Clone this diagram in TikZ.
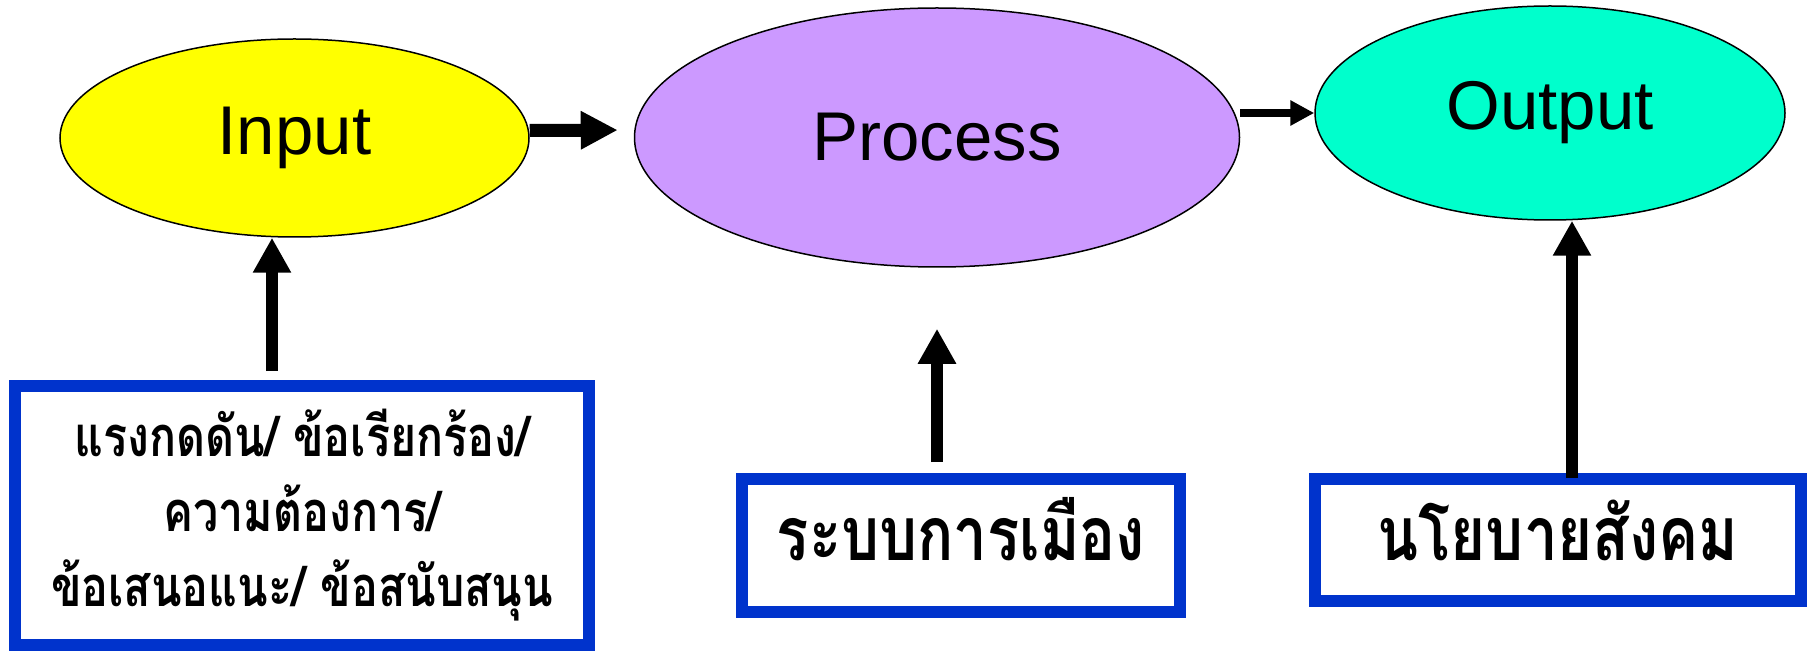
\documentclass[tikz,border=0pt]{standalone}
\usepackage{fontspec}
\setmainfont{Liberation Sans}
\newfontfamily\thaifont[Script=Thai,FakeStretch=0.8]{Loma}
\usetikzlibrary{shapes.geometric,arrows.meta}
\definecolor{inputyellow}{HTML}{FFFF00}
\definecolor{processpurple}{HTML}{CC99FF}
\definecolor{outputcyan}{HTML}{00FFCC}
\definecolor{boxblue}{HTML}{0033CC}

\begin{document}
\begin{tikzpicture}[x=1pt,y=-1pt,
  bubble/.style={ellipse,draw=black,line width=1.5pt,inner sep=0pt,font=\fontsize{69}{80}\selectfont},
  factorbox/.style={rectangle,draw=boxblue,line width=12pt,fill=white,inner sep=0pt,align=center,font=\thaifont\bfseries\fontsize{56}{75}\selectfont},
  bigtext/.style={font=\thaifont\bfseries\fontsize{75}{90}\selectfont,text height=60pt},
  fatarrow/.style={line width=13pt,-{Triangle[length=37pt,width=36pt]}},
  thinarrow/.style={line width=8pt,-{Triangle[length=24pt,width=24pt]}},
  uparrow/.style={line width=12pt,-{Triangle[length=35pt,width=36pt]}}]
\useasboundingbox (0,0) rectangle (1810,652);
\node[bubble,fill=inputyellow,minimum width=469pt,minimum height=198pt] (input) at (294.5,138) {Input};
\node[bubble,fill=processpurple,minimum width=605pt,minimum height=259pt] (process) at (937,137.5) {Process};
\node[bubble,fill=outputcyan,minimum width=470pt,minimum height=214pt] (output) at (1550,113) {Output};
\node[factorbox,minimum width=574pt,minimum height=259pt] (demand) at (302,515) {แรงกดดัน/ ข้อเรียกร้อง/\\ความต้องการ/\\ข้อเสนอแนะ/ ข้อสนับสนุน};
\node[factorbox,bigtext,text depth=31pt,minimum width=438.5pt,minimum height=133pt] (politics) at (961,545.5) {ระบบการเมือง};
\node[factorbox,bigtext,text depth=20pt,minimum width=486pt,minimum height=122pt] (policy) at (1558,540) {นโยบายสังคม};
\draw[fatarrow,shorten >=16pt] ([yshift=7.5pt]input.east) -- ([yshift=7.5pt]process.west);
\draw[thinarrow] (process.east |- output.west) -- (output.west);
\coordinate (demandtop) at (272,371);
\draw[uparrow] (demandtop) -- (demandtop |- input.south);
\draw[uparrow,shorten <=11pt,shorten >=61pt] (process.south |- politics.north) -- (process.south);
\coordinate (policytop) at (1572,478);
\draw[uparrow] (policytop) -- (policytop |- output.south);
\end{tikzpicture}
\end{document}
